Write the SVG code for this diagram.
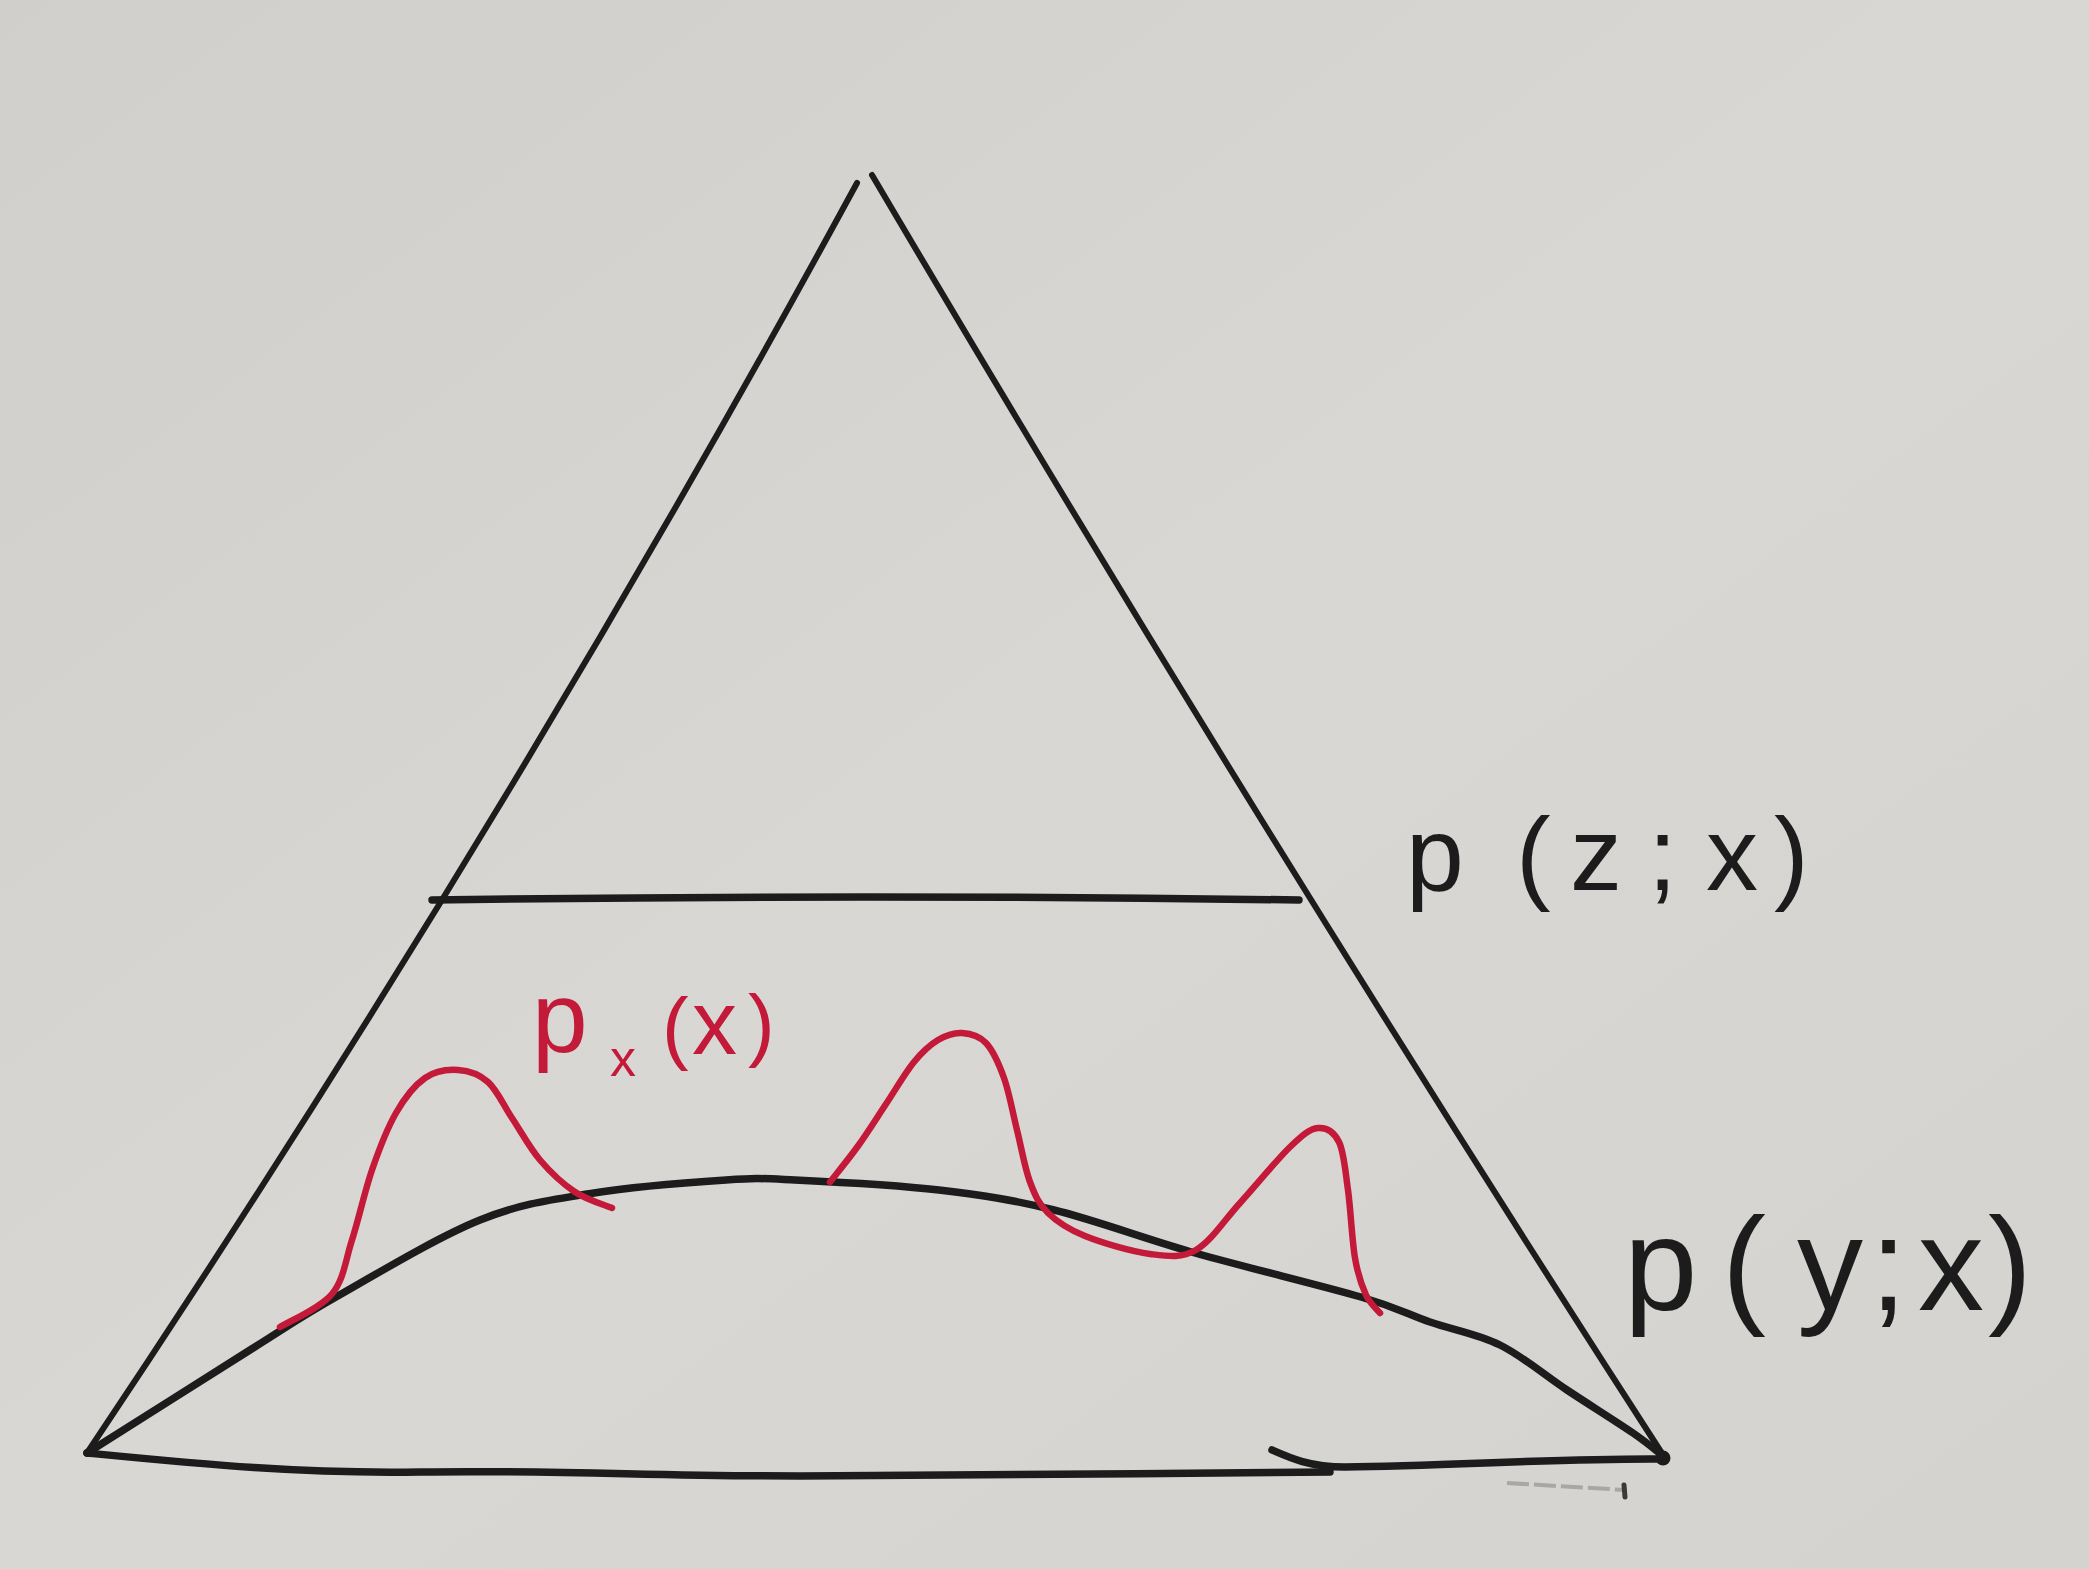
<svg xmlns="http://www.w3.org/2000/svg" width="2089" height="1569" viewBox="0 0 2089 1569">
  <defs>
    <linearGradient id="paper" x1="0" y1="0" x2="1" y2="1">
      <stop offset="0" stop-color="#d1cfcc"/>
      <stop offset="0.5" stop-color="#d9d7d4"/>
      <stop offset="1" stop-color="#d5d3d0"/>
    </linearGradient>
  </defs>
  <style>
    .ink { fill: none; stroke: #1c1c1c; stroke-width: 7.5; stroke-linecap: round; stroke-linejoin: round; }
    .side { stroke-width: 6; }
    .red { fill: none; stroke: #c41a3a; stroke-width: 6.5; stroke-linecap: round; stroke-linejoin: round; }
    .lbl { font-family: "Liberation Sans", "DejaVu Sans", sans-serif; fill: #1c1c1c; }
    .rlbl { font-family: "Liberation Sans", "DejaVu Sans", sans-serif; fill: #c41a3a; }
  </style>

  <rect width="2089" height="1569" fill="url(#paper)"/>

  <g id="triangle">
    <path class="ink side" d="M857,183 Q512,818 87,1453"/>
    <path class="ink side" d="M872,175 Q1250,816 1665,1458"/>
    <path class="ink" d="M87,1453 C200,1464 300,1474 420,1472 C560,1470 650,1476 800,1476 C1000,1476 1150,1473 1330,1472"/>
    <path class="ink" d="M1272,1450 C1290,1458 1310,1467 1345,1467 C1450,1466 1560,1458 1663,1459"/>
    <path d="M1507,1483 L1625,1490" fill="none" stroke="#9a9896" stroke-width="4" stroke-dasharray="22 5" opacity="0.75"/>
    <path d="M1624,1485 L1625,1497" fill="none" stroke="#3a3a3a" stroke-width="5" stroke-linecap="round"/>
    <circle cx="1663" cy="1458" r="7.5" fill="#1c1c1c"/>
  </g>

  <g id="level-z">
    <path class="ink" d="M432,900 Q865,894 1299,900"/>
  </g>

  <g id="curve-py">
    <path class="ink" d="M87,1453 C114,1436 208.5,1376 250,1350 C291.5,1324 297.7,1318.7 336,1297 C374.3,1275.3 437,1237.3 480,1220 C523,1202.7 553,1199.7 594,1193 C635,1186.3 692.5,1182.2 726,1180 C759.5,1177.8 759.5,1178.3 795,1180 C830.5,1181.7 895.8,1185 939,1190 C982.2,1195 1011.3,1199.5 1054,1210 C1096.7,1220.5 1143.8,1238.5 1195,1253 C1246.2,1267.5 1321.8,1285.5 1361,1297 C1400.2,1308.5 1406.8,1314 1430,1322 C1453.2,1330 1477.2,1333.7 1500,1345 C1522.8,1356.3 1544.8,1375.3 1567,1390 C1589.2,1404.7 1617,1422 1633,1433 C1649,1444 1658,1452.2 1663,1456"/>
  </g>

  <g id="curve-px">
    <path class="red" d="M280,1327 C288.7,1321.5 320,1308.5 332,1294 C344,1279.5 345.3,1260.7 352,1240 C358.7,1219.3 364.7,1191.2 372,1170 C379.3,1148.8 387.2,1128.3 396,1113 C404.8,1097.7 414.7,1085.2 425,1078 C435.3,1070.8 447.5,1069.3 458,1070 C468.5,1070.7 479,1074 488,1082 C497,1090 503.3,1105 512,1118 C520.7,1131 529.5,1147.7 540,1160 C550.5,1172.3 563,1184 575,1192 C587,1200 605.8,1205.3 612,1208"/>
    <path class="red" d="M830,1182 C834.7,1176 848.7,1159 858,1146 C867.3,1133 876.7,1118 886,1104 C895.3,1090 905.3,1072.7 914,1062 C922.7,1051.3 930,1044.8 938,1040 C946,1035.2 954,1032.5 962,1033 C970,1033.5 979,1035.5 986,1043 C993,1050.5 998.8,1063.5 1004,1078 C1009.2,1092.5 1012.7,1112.7 1017,1130 C1021.3,1147.3 1024.8,1168.2 1030,1182 C1035.2,1195.8 1038.8,1204 1048,1213 C1057.2,1222 1068,1229.2 1085,1236 C1102,1242.8 1131.5,1251.7 1150,1254 C1168.5,1256.3 1181,1258.5 1196,1250 C1211,1241.5 1224.3,1220.2 1240,1203 C1255.7,1185.8 1277,1159.5 1290,1147 C1303,1134.5 1309.8,1128.8 1318,1128 C1326.2,1127.2 1334,1131.7 1339,1142 C1344,1152.3 1345.3,1170.7 1348,1190 C1350.7,1209.3 1352,1240.5 1355,1258 C1358,1275.5 1361.8,1285.8 1366,1295 C1370.2,1304.2 1377.7,1310 1380,1313"/>
  </g>

  <g id="label-pzx">
    <text class="lbl" font-size="104" y="890"><tspan x="1406">p</tspan><tspan x="1516">(</tspan><tspan x="1570">z</tspan><tspan x="1648">;</tspan><tspan x="1706">x</tspan><tspan x="1774">)</tspan></text>
  </g>

  <g id="label-pyx">
    <text class="lbl" font-size="132" y="1310"><tspan x="1624">p</tspan><tspan x="1722">(</tspan><tspan x="1797">y</tspan><tspan x="1870">;</tspan><tspan x="1918">x</tspan><tspan x="1988">)</tspan></text>
  </g>

  <g id="label-px">
    <text class="rlbl" font-size="100" x="532" y="1052">p</text>
    <text class="rlbl" font-size="52" x="610" y="1076">x</text>
    <text class="rlbl" font-size="80" x="662" y="1054">(</text>
    <text class="rlbl" font-size="90" x="692" y="1054">x</text>
    <text class="rlbl" font-size="80" x="748" y="1051">)</text>
  </g>
</svg>
